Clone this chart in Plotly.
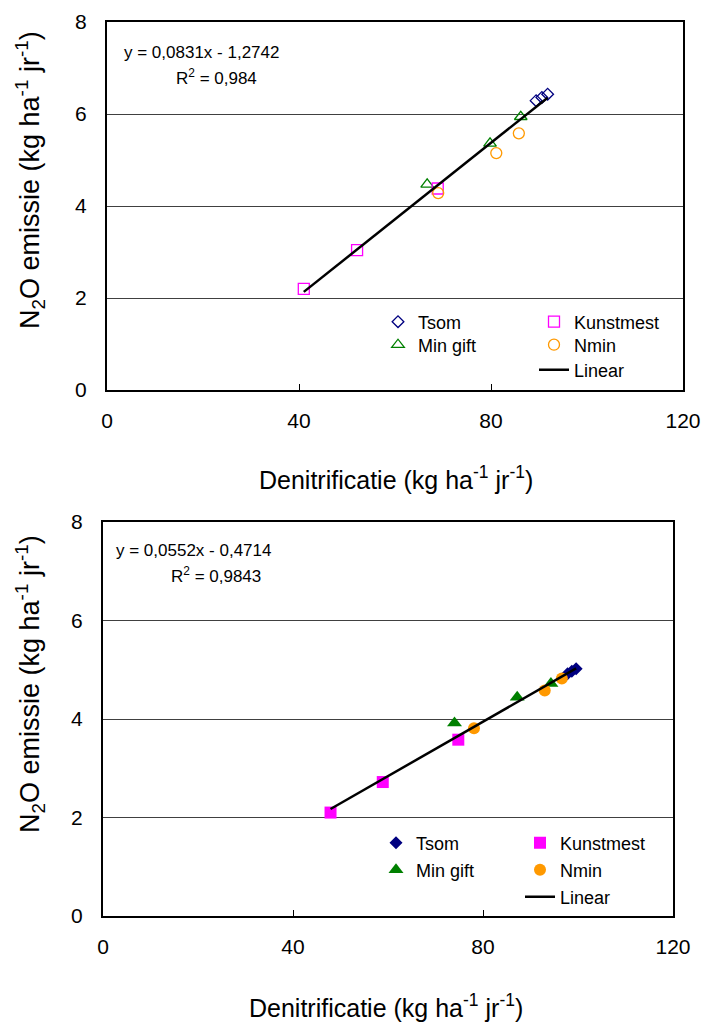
import plotly.graph_objects as go

# ---------------- data (top chart: open markers) ----------------
top_tsom_x = [89.4, 90.6, 91.8]
top_tsom_y = [6.29, 6.36, 6.43]
top_kunst_x = [41.0, 52.1, 68.9]
top_kunst_y = [2.20, 3.04, 4.38]
top_mingift_x = [66.7, 79.8, 86.2]
top_mingift_y = [4.47, 5.36, 5.94]
top_nmin_x = [69.0, 81.1, 85.8]
top_nmin_y = [4.28, 5.15, 5.58]
top_slope, top_intercept = 0.0831, -1.2742
top_eq = "y = 0,0831x - 1,2742"
top_r2 = "R<sup>2</sup> = 0,984"

# ---------------- data (bottom chart: filled markers) ----------------
bot_tsom_x = [97.8, 98.7, 99.6]
bot_tsom_y = [4.92, 4.97, 5.02]
bot_kunst_x = [47.9, 58.9, 74.8]
bot_kunst_y = [2.10, 2.72, 3.58]
bot_mingift_x = [74.0, 87.2, 94.3]
bot_mingift_y = [3.92, 4.44, 4.72]
bot_nmin_x = [78.1, 93.0, 96.6]
bot_nmin_y = [3.81, 4.58, 4.82]
bot_slope, bot_intercept = 0.0552, -0.4714
bot_eq = "y = 0,0552x - 0,4714"
bot_r2 = "R<sup>2</sup> = 0,9843"

x_ticks = [0, 40, 80, 120]
y_ticks = [0, 2, 4, 6, 8]
x_title = "Denitrificatie (kg ha<sup>-1</sup> jr<sup>-1</sup>)"
y_title = "N<sub>2</sub>O emissie (kg ha<sup>-1</sup> jr<sup>-1</sup>)"

W, H = 704, 1026
FONT = "Liberation Sans"
NAVY, MAG, GREEN, ORANGE = "#000080", "#FF00FF", "#008000", "#FF9900"

def px_x(p):
    return p / W

def px_y(p):
    return 1 - p / H

fig = go.Figure()
legends = {}
legend_common = dict(bgcolor="rgba(0,0,0,0)", font=dict(family=FONT, size=18, color="black"),
                     xanchor="left", yanchor="middle", tracegroupgap=0, itemwidth=30,
                     orientation="v")

def new_legend(x, y):
    key = "legend" if not legends else "legend%d" % (len(legends) + 1)
    legends[key] = dict(legend_common, x=px_x(x), y=px_y(y))
    return key

def add_chart(xa, ya, xs, ys, slope, intercept, filled, cols, rows):
    (tx, ty), (kx, ky), (mx, my), (nx, ny) = zip(xs, ys)
    suf = "" if filled else "-open"
    lw = 0 if filled else 1.3
    c1, c2 = cols
    r1, r2, r3 = rows
    common = dict(xaxis=xa, yaxis=ya, mode="markers")
    fig.add_trace(go.Scatter(x=tx, y=ty, name="Tsom", legend=new_legend(c1, r1),
                             marker=dict(symbol="diamond" + suf, size=9 if not filled else 10,
                                         color=NAVY, line=dict(color=NAVY, width=lw)), **common))
    fig.add_trace(go.Scatter(x=mx, y=my, name="Min gift", legend=new_legend(c1, r2),
                             marker=dict(symbol="triangle-up" + suf, size=11 if not filled else 13,
                                         color=GREEN, line=dict(color=GREEN, width=lw)), **common))
    fig.add_trace(go.Scatter(x=kx, y=ky, name="Kunstmest", legend=new_legend(c2, r1),
                             marker=dict(symbol="square" + suf, size=11 if not filled else 12,
                                         color=MAG, line=dict(color=MAG, width=lw)), **common))
    fig.add_trace(go.Scatter(x=nx, y=ny, name="Nmin", legend=new_legend(c2, r2),
                             marker=dict(symbol="circle" + suf, size=11 if not filled else 12,
                                         color=ORANGE, line=dict(color=ORANGE, width=lw)), **common))
    allx = list(tx) + list(kx) + list(mx) + list(nx)
    lx = [min(allx), max(allx)]
    ly = [slope * v + intercept for v in lx]
    fig.add_trace(go.Scatter(x=lx, y=ly, name="Linear", legend=new_legend(c2, r3), mode="lines",
                             line=dict(color="black", width=2.5), xaxis=xa, yaxis=ya))

add_chart("x", "y",
          [top_tsom_x, top_kunst_x, top_mingift_x, top_nmin_x],
          [top_tsom_y, top_kunst_y, top_mingift_y, top_nmin_y],
          top_slope, top_intercept, False, (378, 534), (322, 345, 370))
add_chart("x2", "y2",
          [bot_tsom_x, bot_kunst_x, bot_mingift_x, bot_nmin_x],
          [bot_tsom_y, bot_kunst_y, bot_mingift_y, bot_nmin_y],
          bot_slope, bot_intercept, True, (376, 520), (843, 870, 897))

axis_common = dict(showline=True, linecolor="black", linewidth=2, mirror=True, automargin=False,
                   tickfont=dict(family=FONT, size=21, color="black"), zeroline=False)
xcommon = dict(axis_common, range=[0, 120], tickvals=x_ticks, showgrid=False,
               ticks="inside", ticklen=6, tickcolor="black", ticklabelstandoff=11)
ycommon = dict(axis_common, range=[0, 8], tickvals=y_ticks, showgrid=True,
               gridcolor="#404040", gridwidth=1, ticks="", ticklabelstandoff=14)

fig.update_layout(
    width=W, height=H, paper_bgcolor="white", plot_bgcolor="white",
    margin=dict(l=0, r=0, t=0, b=0, autoexpand=False),
    xaxis=dict(xcommon, domain=[px_x(107), px_x(683)], anchor="y"),
    yaxis=dict(ycommon, domain=[px_y(390), px_y(22)], anchor="x"),
    xaxis2=dict(xcommon, domain=[px_x(103), px_x(673)], anchor="y2"),
    yaxis2=dict(ycommon, domain=[px_y(916), px_y(522)], anchor="x2"),
    showlegend=True,
    **legends,
)

ann = []
def text(x, y, t, size, xanchor="center", angle=0):
    ann.append(dict(x=px_x(x), y=px_y(y), xref="paper", yref="paper", text=t,
                    showarrow=False, xanchor=xanchor, yanchor="middle", textangle=angle,
                    font=dict(family=FONT, size=size, color="black")))

text(396, 478, x_title, 25)
text(386, 1006, x_title, 25)
text(30, 180, y_title, 27, angle=-90)
text(30, 684, y_title, 27, angle=-90)
text(122, 52, top_eq, 17, xanchor="left")
text(216, 77, top_r2, 17)
text(114, 550, bot_eq, 17, xanchor="left")
text(216, 575, bot_r2, 17)
fig.update_layout(annotations=ann)

fig.write_html("out.html")
